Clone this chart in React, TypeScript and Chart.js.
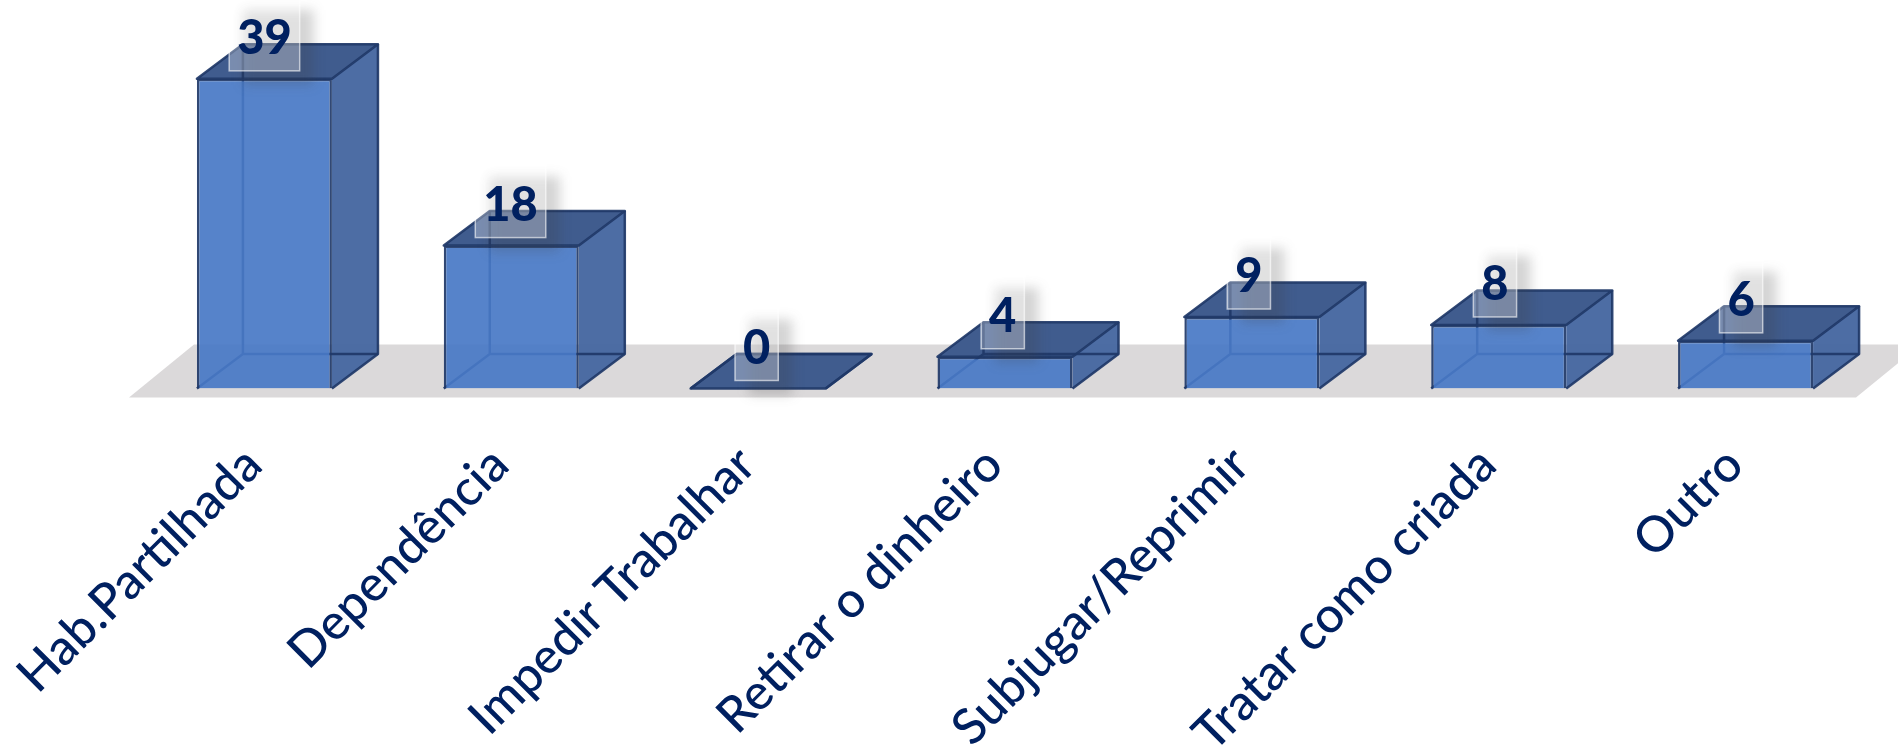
import React, { useEffect, useRef } from "react";
import { Chart, registerables } from "chart.js";

Chart.register(...registerables);

const categories = ["Hab.Partilhada", "Dependência", "Impedir Trabalhar", "Retirar o dinheiro", "Subjugar/Reprimir", "Tratar como criada", "Outro"];
const counts = [39, 18, 0, 4, 9, 8, 6];

const FONT = "Lato, 'Open Sans', sans-serif";
const NAVY = "#002060";
const EDGE = "rgba(31,56,104,0.92)";
const DX = 46;
const DY = 34.5;

const box3d = {
  id: "box3d",
  beforeDatasetsDraw(chart: any) {
    const { ctx, scales, chartArea } = chart;
    const y0 = scales.y.getPixelForValue(0);
    const meta = chart.getDatasetMeta(0);
    // floor
    ctx.save();
    ctx.fillStyle = "#dbd9da";
    ctx.beginPath();
    ctx.moveTo(chartArea.left - 12, y0 + 9);
    ctx.lineTo(chartArea.right - 13, y0 + 9);
    ctx.lineTo(chartArea.right + 52, y0 - 44);
    ctx.lineTo(chartArea.left + 53, y0 - 44);
    ctx.closePath();
    ctx.fill();
    ctx.lineJoin = "round";
    meta.data.forEach((bar: any) => {
      const l = bar.x - bar.width / 2;
      const r = bar.x + bar.width / 2;
      const t = bar.y;
      const b = bar.base;
      // side face
      ctx.beginPath();
      ctx.moveTo(r, t);
      ctx.lineTo(r + DX, t - DY);
      ctx.lineTo(r + DX, b - DY);
      ctx.lineTo(r, b);
      ctx.closePath();
      ctx.fillStyle = "rgba(70,103,160,0.96)";
      ctx.fill();
      // top face
      ctx.beginPath();
      ctx.moveTo(l, t);
      ctx.lineTo(l + DX, t - DY);
      ctx.lineTo(r + DX, t - DY);
      ctx.lineTo(r, t);
      ctx.closePath();
      ctx.fillStyle = "#405c8e";
      ctx.fill();
      ctx.strokeStyle = EDGE;
      ctx.lineWidth = 2.5;
      ctx.stroke();
      // side edges
      ctx.beginPath();
      ctx.moveTo(r, b);
      ctx.lineTo(r + DX, b - DY);
      ctx.lineTo(r + DX, t - DY);
      ctx.stroke();
      // hidden back edges
      ctx.beginPath();
      ctx.moveTo(l, b);
      ctx.lineTo(l + DX, b - DY);
      ctx.lineTo(r + DX, b - DY);
      ctx.moveTo(l + DX, b - DY);
      ctx.lineTo(l + DX, t - DY);
      ctx.stroke();
    });
    ctx.restore();
  },
  afterDatasetsDraw(chart: any) {
    const { ctx } = chart;
    const meta = chart.getDatasetMeta(0);
    ctx.save();
    ctx.font = `900 47px ${FONT}`;
    ctx.textAlign = "center";
    ctx.textBaseline = "middle";
    meta.data.forEach((bar: any, i: number) => {
      const text = String(counts[i]);
      const cx = bar.x - i * 0.75;
      const w = ctx.measureText(text).width + 16;
      const h = 75;
      const x = cx - w / 2;
      const y = bar.y - 8 - h;
      // soft shadow
      ctx.save();
      ctx.filter = "blur(6px)";
      ctx.fillStyle = "rgba(60,60,60,0.22)";
      ctx.fillRect(x + 14, y + 14, w, h);
      ctx.restore();
      // translucent tag
      ctx.fillStyle = "rgba(255,255,255,0.3)";
      ctx.fillRect(x, y, w, h);
      ctx.strokeStyle = "rgba(255,255,255,0.6)";
      ctx.lineWidth = 1.5;
      ctx.strokeRect(x, y, w, h);
      ctx.fillStyle = NAVY;
      ctx.fillText(text, cx, bar.y - 40);
    });
    ctx.restore();
  },
};

export default function App() {
  const ref = useRef<HTMLCanvasElement>(null);
  useEffect(() => {
    const chart = new Chart(ref.current!, {
      type: "bar",
      data: {
        labels: categories,
        datasets: [
          {
            data: counts,
            backgroundColor: "rgba(72,120,198,0.92)",
            borderColor: EDGE,
            borderWidth: 2.5,
            barPercentage: 0.547,
            categoryPercentage: 1,
          },
        ],
      },
      options: {
        responsive: false,
        animation: false,
        layout: { padding: { left: 141, right: 29, top: 7.4, bottom: 0 } },
        plugins: { legend: { display: false }, tooltip: { enabled: false } },
        scales: {
          x: {
            offset: true,
            border: { display: false },
            grid: { display: false, drawTicks: false },
            ticks: {
              autoSkip: false,
              minRotation: 45,
              maxRotation: 45,
              padding: 47,
              labelOffset: -11,
              color: NAVY,
              font: { family: FONT, size: 49.5, weight: 500 },
            },
            afterFit(scale: any) {
              scale.height = 749 - 388.5;
              scale.paddingLeft = 0;
              scale.paddingRight = 0;
            },
          },
          y: { display: false, min: 0, max: 48 },
        },
      },
      plugins: [box3d],
    } as any);
    return () => chart.destroy();
  }, []);
  return (
    <div style={{ position: "fixed", left: 0, top: 0, width: 1898, height: 749, overflow: "hidden", background: "#fff" }}>
      <canvas ref={ref} width={1898} height={749} style={{ display: "block" }} />
    </div>
  );
}
